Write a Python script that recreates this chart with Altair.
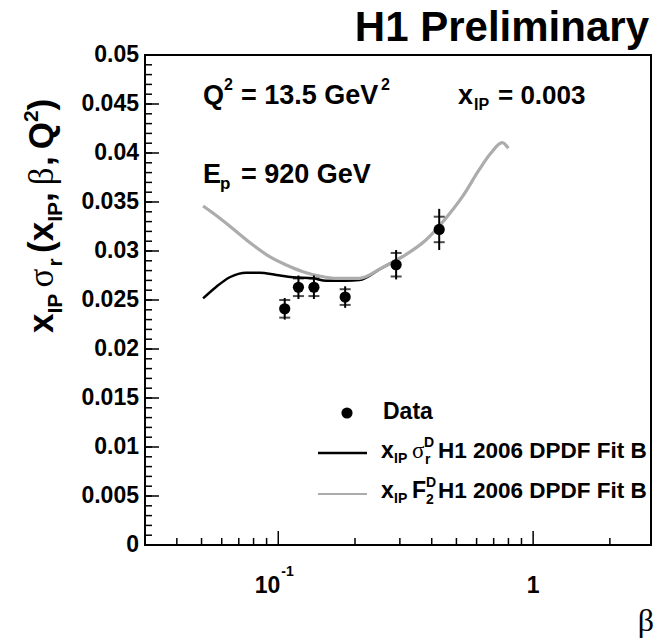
import altair as alt
import pandas as pd
import numpy as np

# ---------------- data ----------------
beta_data = [0.106, 0.120, 0.138, 0.183, 0.290, 0.428]
sigma_data = [0.0241, 0.0263, 0.0263, 0.0253, 0.0286, 0.0322]
err_tot = [0.0011, 0.0012, 0.0012, 0.0011, 0.0015, 0.0021]
err_stat = [0.0009, 0.0009, 0.0009, 0.0008, 0.0012, 0.0013]

beta_fit_sigma = [0.0507, 0.0572, 0.0645, 0.0750, 0.0845, 0.0983, 0.1141,
                  0.1367, 0.1542, 0.1846, 0.2081, 0.2531, 0.3073]
fit_sigma = [0.02517, 0.02636, 0.02732, 0.02779, 0.02779, 0.02755, 0.02732,
             0.02721, 0.02697, 0.02697, 0.02704, 0.02823, 0.02942]

beta_fit_f2 = [0.0507, 0.0590, 0.0686, 0.0796, 0.0925, 0.1075, 0.1249, 0.1451,
               0.1687, 0.2081, 0.2531, 0.3073, 0.3795, 0.4545, 0.5277, 0.6135,
               0.6816, 0.7566, 0.7989]
fit_f2 = [0.03459, 0.03334, 0.03197, 0.03061, 0.02942, 0.02857, 0.02789, 0.02745,
          0.02721, 0.02721, 0.02823, 0.02942, 0.03112, 0.03334, 0.03554, 0.03827,
          0.03997, 0.04105, 0.04048]

y_tick_values = [0, 0.005, 0.01, 0.015, 0.02, 0.025, 0.03, 0.035, 0.04, 0.045, 0.05]
y_tick_labels = ["0", "0.005", "0.01", "0.015", "0.02", "0.025", "0.03", "0.035", "0.04", "0.045", "0.05"]
x_major = [0.1, 1.0]
x_minor = [0.04, 0.05, 0.06, 0.07, 0.08, 0.09, 0.2, 0.3, 0.4, 0.5, 0.6, 0.7, 0.8, 0.9, 2.0]

# ---------------- layout ----------------
W, H = 506, 490
L, T = 145, 55
FONT = "Liberation Sans"
GREEK = "Liberation Serif"
GRAY = "#acacac"

xsc = alt.Scale(type="log", domain=[0.03, 2.9])
ysc = alt.Scale(domain=[0, 0.05])


def X():
    return alt.X("beta:Q", scale=xsc, axis=None)


def Y(f="value"):
    return alt.Y(f"{f}:Q", scale=ysc, axis=None)


one = pd.DataFrame({"k": [0]})


def txt(s, px, py, size, font=FONT, weight="bold", angle=0, align="left",
        baseline="alphabetic"):
    kw = dict(text=s, font=font, fontSize=size, fontWeight=weight, align=align,
              baseline=baseline, color="black")
    if angle:
        kw["angle"] = angle
    return alt.Chart(one).mark_text(**kw).encode(
        x=alt.value(px - L), y=alt.value(py - T))


layers = []

# fits
df_sig = pd.DataFrame({"beta": beta_fit_sigma, "value": fit_sigma})
df_f2 = pd.DataFrame({"beta": beta_fit_f2, "value": fit_f2})
layers.append(alt.Chart(df_sig).mark_line(color="black", strokeWidth=2.5,
                                          interpolate="monotone").encode(x=X(), y=Y()))
layers.append(alt.Chart(df_f2).mark_line(color=GRAY, strokeWidth=3.2,
                                         interpolate="monotone").encode(x=X(), y=Y()))

# data with errors
df_d = pd.DataFrame({"beta": beta_data, "value": sigma_data,
                     "lo": np.array(sigma_data) - np.array(err_tot),
                     "hi": np.array(sigma_data) + np.array(err_tot),
                     "slo": np.array(sigma_data) - np.array(err_stat),
                     "shi": np.array(sigma_data) + np.array(err_stat)})
layers.append(alt.Chart(df_d).mark_rule(color="black", strokeWidth=2).encode(
    x=X(), y=Y("lo"), y2="hi:Q"))
layers.append(alt.Chart(df_d).mark_tick(color="black", orient="horizontal", size=11,
                                        thickness=2).encode(x=X(), y=Y("slo")))
layers.append(alt.Chart(df_d).mark_tick(color="black", orient="horizontal", size=11,
                                        thickness=2).encode(x=X(), y=Y("shi")))
layers.append(alt.Chart(df_d).mark_circle(color="black", size=125, opacity=1).encode(
    x=X(), y=Y()))

# axis ticks (inside)
df_ymaj = pd.DataFrame({"value": y_tick_values})
df_ymin = pd.DataFrame({"value": np.round(np.arange(0, 0.0501, 0.001), 4)})
layers.append(alt.Chart(df_ymaj).mark_rule(color="black", strokeWidth=1.5).encode(
    y=Y(), x=alt.value(0), x2=alt.value(14)))
layers.append(alt.Chart(df_ymin).mark_rule(color="black", strokeWidth=1.5).encode(
    y=Y(), x=alt.value(0), x2=alt.value(7)))
df_xmaj = pd.DataFrame({"beta": x_major})
df_xmin = pd.DataFrame({"beta": x_minor})
layers.append(alt.Chart(df_xmaj).mark_rule(color="black", strokeWidth=1.5).encode(
    x=X(), y=alt.value(H), y2=alt.value(H - 14)))
layers.append(alt.Chart(df_xmin).mark_rule(color="black", strokeWidth=1.5).encode(
    x=X(), y=alt.value(H), y2=alt.value(H - 7)))

# tick labels
df_ylab = pd.DataFrame({"value": y_tick_values, "lab": y_tick_labels})
layers.append(alt.Chart(df_ylab).mark_text(font=FONT, fontWeight="bold", fontSize=23,
                                           align="right", baseline="middle").encode(
    y=Y(), x=alt.value(-6), text="lab:N"))
df_xlab = pd.DataFrame({"beta": [0.1], "lab": ["10"]})
layers.append(alt.Chart(df_xlab).mark_text(font=FONT, fontWeight="bold", fontSize=23,
                                           align="right", dx=2).encode(
    x=X(), y=alt.value(586 - T), text="lab:N"))
df_xlab2 = pd.DataFrame({"beta": [0.1], "lab": ["-1"]})
layers.append(alt.Chart(df_xlab2).mark_text(font=FONT, fontWeight="bold", fontSize=14,
                                            align="left", dx=3).encode(
    x=X(), y=alt.value(572 - T), text="lab:N"))
df_xlab3 = pd.DataFrame({"beta": [1.0], "lab": ["1"]})
layers.append(alt.Chart(df_xlab3).mark_text(font=FONT, fontWeight="bold", fontSize=23,
                                            align="center").encode(
    x=X(), y=alt.value(586 - T), text="lab:N"))

# header and axis titles
layers.append(txt("H1 Preliminary", 649, 41, 42, align="right"))
layers.append(txt("β", 646, 631, 32, font=GREEK, weight="normal", align="center"))

# rotated y title, built from segments bottom -> top
S = 35
s = 21
XB = 53  # baseline (right side of main glyphs)
segs = [  # text, size, x-shift (+ = subscript), advance, font, weight
    ("x", S, 0, 0.556 * S, FONT, "bold"),
    ("IP", s, 0.27 * S, 0.945 * s + 0.18 * S, FONT, "bold"),
    ("σ", S, 0, 0.60 * S, GREEK, "normal"),
    ("r", s, 0.27 * S, 0.389 * s + 0.15 * S, FONT, "bold"),
    ("(", S, 0, 0.333 * S, FONT, "bold"),
    ("x", S, 0, 0.556 * S, FONT, "bold"),
    ("IP", s, 0.27 * S, 0.945 * s, FONT, "bold"),
    (",", S, 0, 0.278 * S + 0.2 * S, FONT, "bold"),
    ("β", S, 0, 0.55 * S, GREEK, "normal"),
    (",", S, 0, 0.278 * S + 0.2 * S, FONT, "bold"),
    ("Q", S, 0, 0.778 * S, FONT, "bold"),
    ("2", s, -0.42 * S, 0.556 * s, FONT, "bold"),
    (")", S, 0, 0.333 * S, FONT, "bold"),
]
ycur = 333
for t_, sz, sh, adv, fnt, wt in segs:
    layers.append(txt(t_, XB + sh, ycur, sz, font=fnt, weight=wt, angle=270))
    ycur -= adv

# annotations in the frame
layers.append(txt("Q", 203, 104, 27))
layers.append(txt("2", 224, 90, 16))
layers.append(txt("= 13.5 GeV", 241, 104, 27))
layers.append(txt("2", 381, 90, 16))
layers.append(txt("x", 458, 104, 27))
layers.append(txt("IP", 474, 110, 16))
layers.append(txt("= 0.003", 498, 104, 26))
layers.append(txt("E", 203, 183, 27))
layers.append(txt("p", 220, 189, 17))
layers.append(txt("= 920 GeV", 241, 183, 27))

# legend
layers.append(alt.Chart(one).mark_circle(color="black", size=125, opacity=1).encode(
    x=alt.value(347 - L), y=alt.value(413 - T)))
layers.append(alt.Chart(one).mark_rule(color="black", strokeWidth=2.5).encode(
    x=alt.value(318 - L), x2=alt.value(367 - L), y=alt.value(453 - T)))
layers.append(alt.Chart(one).mark_rule(color=GRAY, strokeWidth=2).encode(
    x=alt.value(318 - L), x2=alt.value(367 - L), y=alt.value(494 - T)))
layers.append(txt("Data", 383, 419, 23))
layers.append(txt("x", 381, 458, 23))
layers.append(txt("IP", 394, 463, 14))
layers.append(txt("σ", 412, 458, 23, font=GREEK, weight="normal"))
layers.append(txt("D", 424, 447, 14))
layers.append(txt("r", 425, 464, 14))
layers.append(txt("H1 2006 DPDF Fit B", 438, 458, 22.5))
layers.append(txt("x", 381, 498, 23))
layers.append(txt("IP", 394, 503, 14))
layers.append(txt("F", 412, 498, 23))
layers.append(txt("D", 426, 487, 14))
layers.append(txt("2", 426, 504, 14))
layers.append(txt("H1 2006 DPDF Fit B", 438, 498, 22.5))

chart = alt.layer(*layers).properties(
    width=W, height=H,
    padding={"left": L, "top": T, "right": 658 - L - W, "bottom": 643 - T - H},
    autosize=alt.AutoSizeParams(type="none"),
    background="white",
).configure_view(stroke="black", strokeWidth=2)

chart.save("out.html", embed_options={"renderer": "svg", "actions": False})
